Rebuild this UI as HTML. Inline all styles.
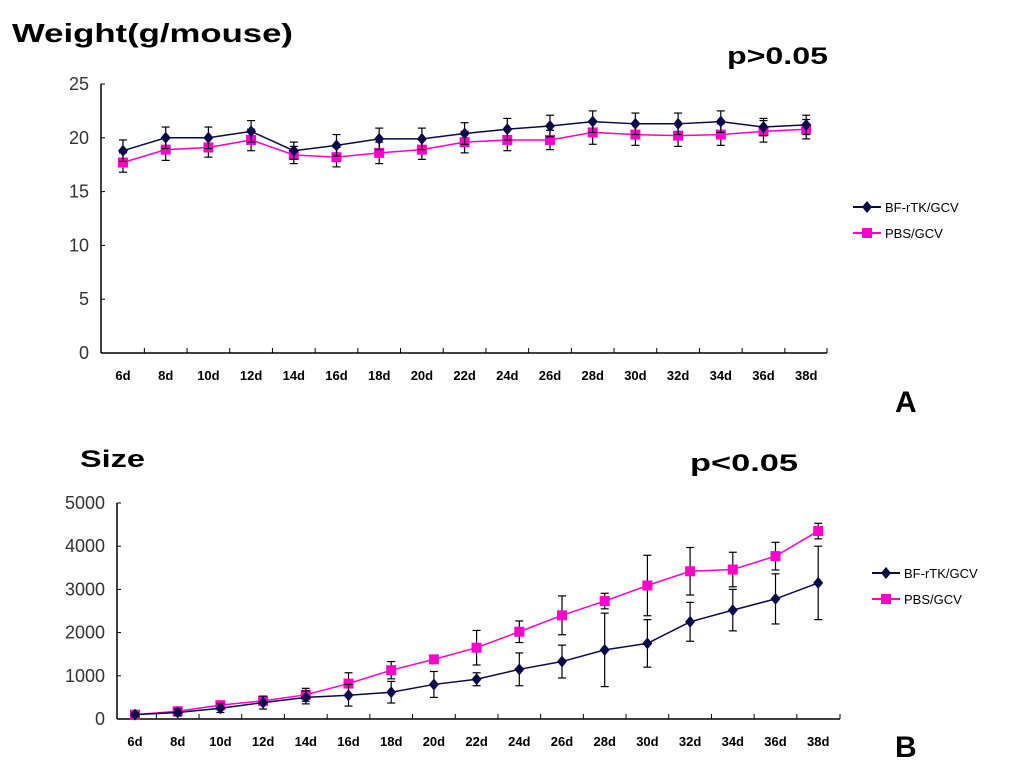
<!DOCTYPE html>
<html><head><style>
body{margin:0;background:#fff;width:1024px;height:777px;overflow:hidden}
svg text{font-family:"Liberation Sans",sans-serif}
</style></head><body>
<svg id="c" width="1024" height="777">
<text x="12" y="42" font-size="26" font-weight="bold" textLength="281" lengthAdjust="spacingAndGlyphs">Weight(g/mouse)</text>
<text x="727" y="64" font-size="24" font-weight="bold" textLength="101" lengthAdjust="spacingAndGlyphs">p&gt;0.05</text>
<text x="895" y="412" font-size="30" font-weight="bold">A</text>
<text x="80" y="467" font-size="24" font-weight="bold" textLength="65" lengthAdjust="spacingAndGlyphs">Size</text>
<text x="690" y="471" font-size="24" font-weight="bold" textLength="108" lengthAdjust="spacingAndGlyphs">p&lt;0.05</text>
<text x="895" y="757" font-size="30" font-weight="bold">B</text>
</svg>
<script>
const cats=["6d","8d","10d","12d","14d","16d","18d","20d","22d","24d","26d","28d","30d","32d","34d","36d","38d"];
const wBF=[18.8,20,20,20.6,18.8,19.3,19.9,19.9,20.4,20.8,21.1,21.5,21.3,21.3,21.5,21.0,21.2];
const wBFerr=[1,1,1,1,0.8,1,1,1,1,1,1,1,1,1,1,0.8,0.9];
const wPBS=[17.7,18.9,19.1,19.8,18.4,18.2,18.6,18.9,19.6,19.8,19.8,20.5,20.3,20.2,20.3,20.6,20.8];
const wPBSerr=[0.9,1,0.9,1,0.8,0.9,1,0.9,1,1,0.9,1.1,1,1,1,1,0.9];
const wTicks=[0,5,10,15,20,25];
const sBF=[100,150,250,380,500,550,620,800,920,1150,1330,1600,1750,2250,2520,2780,3150];
const sBFerr=[50,80,100,150,150,250,250,300,150,380,380,850,550,450,480,580,850];
const sPBS=[100,180,320,420,560,820,1130,1380,1650,2020,2400,2730,3090,3420,3460,3770,4350];
const sPBSerr=[50,80,80,100,150,250,200,80,400,250,450,180,700,550,400,320,180];
const sTicks=[0,1000,2000,3000,4000,5000];
const NS="http://www.w3.org/2000/svg";
const svg=document.getElementById('c');
function mk(t,a){const e=document.createElementNS(NS,t);for(const k in a)e.setAttribute(k,a[k]);svg.appendChild(e);return e;}
function chart(o){
  const x=i=>o.x0+o.dx*i, y=v=>o.y0-(v/o.max)*(o.y0-o.y1);
  let e=mk('line',{x1:o.ax,y1:o.y1,x2:o.ax,y2:o.y0,stroke:'#000','stroke-width':1.5});
  
  
  e=mk('line',{x1:o.ax,y1:o.y0,x2:o.axr,y2:o.y0,stroke:'#000','stroke-width':1.5});
  
  
  o.ticks.forEach(t=>{
    mk('line',{x1:o.ax,y1:y(t),x2:o.ax+4,y2:y(t),stroke:'#000'});
    e=mk('text',{x:o.ax-12,y:y(t)+6,'font-size':18,'text-anchor':'end',fill:'#333'});e.textContent=t;
    
    
  });
  cats.forEach((c,i)=>{
    if(i>0)mk('line',{x1:x(i)-o.dx/2,y1:o.y0,x2:x(i)-o.dx/2,y2:o.y0-5,stroke:'#000'});
    e=mk('text',{x:x(i),y:o.y0+o.lab,'font-size':13,'font-weight':'bold','text-anchor':'middle'});e.textContent=c;
    
    
  });
  mk('line',{x1:o.axr,y1:o.y0,x2:o.axr,y2:o.y0-5,stroke:'#000'});
  [[o.pbs,o.pbsE,'#ff00cc','pbs-gcv'],[o.bf,o.bfE,'#0a0a4a','bf-rtk-gcv']].forEach(([d,er,col,nm])=>{
    d.forEach((v,i)=>{
      const t=y(v+er[i]),b=y(v-er[i]);
      mk('line',{x1:x(i),y1:t,x2:x(i),y2:b,stroke:'#000','stroke-width':1.2});
      mk('line',{x1:x(i)-4,y1:t,x2:x(i)+4,y2:t,stroke:'#000','stroke-width':1.2});
      mk('line',{x1:x(i)-4,y1:b,x2:x(i)+4,y2:b,stroke:'#000','stroke-width':1.2});
    });
    e=mk('polyline',{points:d.map((v,i)=>x(i)+','+y(v)).join(' '),fill:'none',stroke:col,'stroke-width':1.5});
    
    
    d.forEach((v,i)=>{
      const cx=x(i),cy=y(v);
      e=nm=='pbs-gcv'?mk('rect',{x:cx-5,y:cy-5,width:10,height:10,fill:col}):mk('polygon',{points:`${cx},${cy-6} ${cx+5},${cy} ${cx},${cy+6} ${cx-5},${cy}`,fill:col});
      
      
    });
  });
  [['BF-rTK/GCV','#0a0a4a',0,'diamond'],['PBS/GCV','#ff00cc',1,'square']].forEach(([t,col,k,sh])=>{
    const ly=o.ly+k*26,lx=o.lx;
    mk('line',{x1:lx,y1:ly,x2:lx+28,y2:ly,stroke:col,'stroke-width':2});
    if(sh=='square')mk('rect',{x:lx+9,y:ly-5,width:10,height:10,fill:col});
    else mk('polygon',{points:`${lx+14},${ly-6} ${lx+19},${ly} ${lx+14},${ly+6} ${lx+9},${ly}`,fill:col});
    e=mk('text',{x:lx+32,y:ly+5,'font-size':13});e.textContent=t;
    
    
  });
}
chart({ax:101,axr:827,x0:123,dx:42.7,y0:353,y1:84,max:25,ticks:wTicks,bf:wBF,bfE:wBFerr,pbs:wPBS,pbsE:wPBSerr,lab:27,lx:853,ly:207});
chart({ax:117,axr:840,x0:135,dx:42.7,y0:719,y1:503,max:5000,ticks:sTicks,bf:sBF,bfE:sBFerr,pbs:sPBS,pbsE:sPBSerr,lab:27,lx:872,ly:573});
</script>
</body></html>
